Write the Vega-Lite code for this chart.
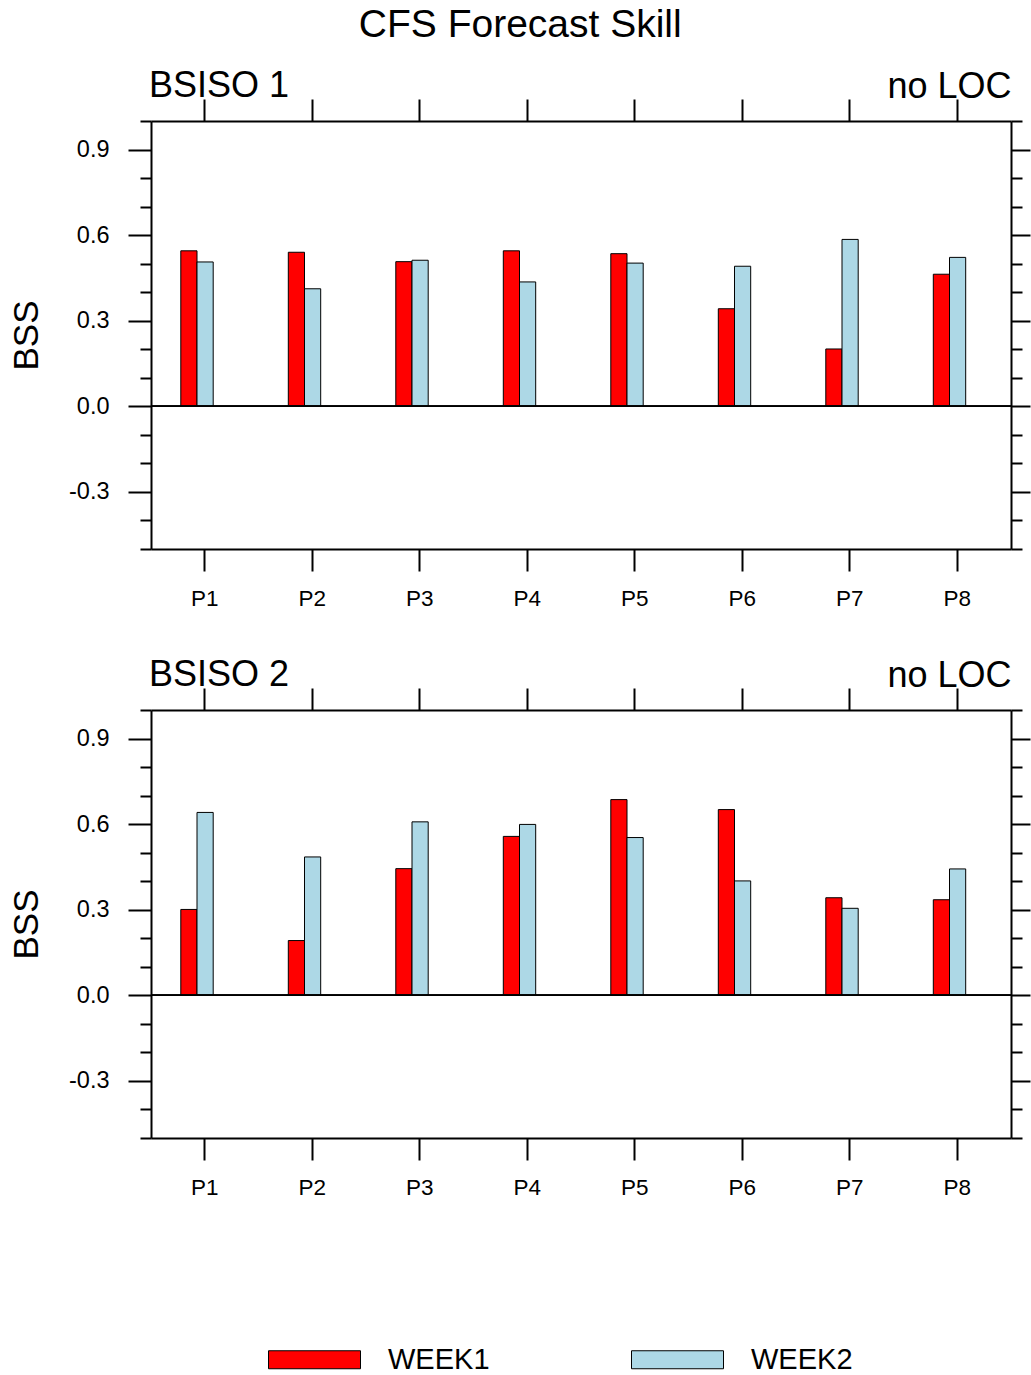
{
  "$schema": "https://vega.github.io/schema/vega-lite/v6.json",
  "padding": {"left": 9, "top": 6, "right": 0, "bottom": 0},
  "autosize": {"type": "pad"},
  "config": {
    "font": "Liberation Sans",
    "view": {"stroke": null},
    "axis": {"grid": false, "domainColor": "black", "domainWidth": 2, "tickColor": "black", "tickWidth": 2, "labelColor": "black", "titleColor": "black", "labelFont": "Liberation Sans", "titleFont": "Liberation Sans", "titleFontWeight": "normal"},
    "title": {"font": "Liberation Sans", "fontWeight": "normal", "color": "black"}
  },
  "title": {"text": "CFS Forecast Skill", "fontSize": 39, "anchor": "middle", "frame": "bounds", "offset": 23},
  "bounds": "flush",
  "spacing": 161,
  "datasets": {
    "bsiso1": [
      {"phase": "P1", "week": "WEEK1", "bss": 0.545}, {"phase": "P1", "week": "WEEK2", "bss": 0.506},
      {"phase": "P2", "week": "WEEK1", "bss": 0.540}, {"phase": "P2", "week": "WEEK2", "bss": 0.412},
      {"phase": "P3", "week": "WEEK1", "bss": 0.507}, {"phase": "P3", "week": "WEEK2", "bss": 0.512},
      {"phase": "P4", "week": "WEEK1", "bss": 0.545}, {"phase": "P4", "week": "WEEK2", "bss": 0.436},
      {"phase": "P5", "week": "WEEK1", "bss": 0.535}, {"phase": "P5", "week": "WEEK2", "bss": 0.502},
      {"phase": "P6", "week": "WEEK1", "bss": 0.342}, {"phase": "P6", "week": "WEEK2", "bss": 0.491},
      {"phase": "P7", "week": "WEEK1", "bss": 0.201}, {"phase": "P7", "week": "WEEK2", "bss": 0.585},
      {"phase": "P8", "week": "WEEK1", "bss": 0.463}, {"phase": "P8", "week": "WEEK2", "bss": 0.522}
    ],
    "bsiso2": [
      {"phase": "P1", "week": "WEEK1", "bss": 0.301}, {"phase": "P1", "week": "WEEK2", "bss": 0.641},
      {"phase": "P2", "week": "WEEK1", "bss": 0.192}, {"phase": "P2", "week": "WEEK2", "bss": 0.485},
      {"phase": "P3", "week": "WEEK1", "bss": 0.444}, {"phase": "P3", "week": "WEEK2", "bss": 0.608},
      {"phase": "P4", "week": "WEEK1", "bss": 0.557}, {"phase": "P4", "week": "WEEK2", "bss": 0.599},
      {"phase": "P5", "week": "WEEK1", "bss": 0.686}, {"phase": "P5", "week": "WEEK2", "bss": 0.553},
      {"phase": "P6", "week": "WEEK1", "bss": 0.651}, {"phase": "P6", "week": "WEEK2", "bss": 0.401},
      {"phase": "P7", "week": "WEEK1", "bss": 0.342}, {"phase": "P7", "week": "WEEK2", "bss": 0.305},
      {"phase": "P8", "week": "WEEK1", "bss": 0.335}, {"phase": "P8", "week": "WEEK2", "bss": 0.443}
    ]
  },
  "vconcat": [
    {
      "width": 860, "height": 428,
      "title": {"text": "BSISO 1", "anchor": "start", "frame": "group", "fontSize": 36, "offset": 0, "dx": -2, "dy": 37},
      "data": {"name": "bsiso1"},
      "layer": [
        {
          "mark": {"type": "bar", "stroke": "black", "strokeWidth": 1},
          "encoding": {
            "x": {"field": "phase", "type": "nominal", "sort": ["P1","P2","P3","P4","P5","P6","P7","P8"],
                  "scale": {"paddingInner": 0, "paddingOuter": 0},
                  "axis": {"orient": "bottom", "title": null, "labelAngle": 0, "tickSize": 22, "labelPadding": 16, "labelFontSize": 22.5}},
            "xOffset": {"field": "week", "type": "nominal", "scale": {"domain": ["WEEK1","WEEK2"], "range": [29.8, 62.2], "paddingInner": 0, "paddingOuter": 0}},
            "y": {"field": "bss", "type": "quantitative",
                  "scale": {"domain": [-0.5, 1.0], "nice": false, "zero": false},
                  "axis": {"orient": "left", "values": [-0.5,-0.4,-0.3,-0.2,-0.1,0,0.1,0.2,0.3,0.4,0.5,0.6,0.7,0.8,0.9,1.0],
                           "labelExpr": "(datum.value == -0.3 || datum.value == 0 || datum.value == 0.3 || datum.value == 0.6 || datum.value == 0.9) ? ((datum.value < 0 ? '-' : '') + format(abs(datum.value), '.1f')) : ''",
                           "tickSize": {"condition": {"test": "datum.value == -0.3 || datum.value == 0 || datum.value == 0.3 || datum.value == 0.6 || datum.value == 0.9", "value": 23}, "value": 11},
                           "labelPadding": 19, "labelFontSize": 23.5, "title": "BSS", "titleFontSize": 35, "titlePadding": 24}},
            "color": {"field": "week", "type": "nominal",
                      "scale": {"domain": ["WEEK1","WEEK2"], "range": ["#ff0000", "#add8e6"]},
                      "legend": {"orient": "none", "legendX": 149, "legendY": 1224, "direction": "horizontal", "title": null,
                                 "symbolType": "M-4.6,-0.9H4.6V0.9H-4.6Z", "symbolSize": 400, "symbolStrokeColor": "black", "symbolStrokeWidth": 1,
                                 "labelFontSize": 29, "labelColor": "black", "labelOffset": 59, "columnPadding": 139, "labelFont": "Liberation Sans"}}
          }
        },
        {
          "mark": {"type": "bar", "opacity": 0},
          "encoding": {
            "x": {"field": "phase", "type": "nominal", "sort": ["P1","P2","P3","P4","P5","P6","P7","P8"],
                  "axis": {"orient": "top", "labels": false, "tickSize": 22, "title": "no LOC", "titleFontSize": 36, "titleAlign": "right", "titleAnchor": "end", "titleX": 860, "titleY": -24, "titleBaseline": "alphabetic"}},
            "y": {"field": "bss", "type": "quantitative",
                  "axis": {"orient": "right", "values": [-0.5,-0.4,-0.3,-0.2,-0.1,0,0.1,0.2,0.3,0.4,0.5,0.6,0.7,0.8,0.9,1.0], "labels": false, "title": null,
                           "tickSize": {"condition": {"test": "datum.value == -0.3 || datum.value == 0 || datum.value == 0.3 || datum.value == 0.6 || datum.value == 0.9", "value": 19}, "value": 11}}}
          }
        },
        {
          "mark": {"type": "rule", "color": "black", "strokeWidth": 1},
          "encoding": {"y": {"datum": 0, "type": "quantitative", "axis": null}}
        }
      ],
      "resolve": {"axis": {"x": "independent", "y": "independent"}}
    },
    {
      "width": 860, "height": 428,
      "title": {"text": "BSISO 2", "anchor": "start", "frame": "group", "fontSize": 36, "offset": 0, "dx": -2, "dy": 52},
      "data": {"name": "bsiso2"},
      "layer": [
        {
          "mark": {"type": "bar", "stroke": "black", "strokeWidth": 1},
          "encoding": {
            "x": {"field": "phase", "type": "nominal", "sort": ["P1","P2","P3","P4","P5","P6","P7","P8"],
                  "scale": {"paddingInner": 0, "paddingOuter": 0},
                  "axis": {"orient": "bottom", "title": null, "labelAngle": 0, "tickSize": 22, "labelPadding": 16, "labelFontSize": 22.5}},
            "xOffset": {"field": "week", "type": "nominal", "scale": {"domain": ["WEEK1","WEEK2"], "range": [29.8, 62.2], "paddingInner": 0, "paddingOuter": 0}},
            "y": {"field": "bss", "type": "quantitative",
                  "scale": {"domain": [-0.5, 1.0], "nice": false, "zero": false},
                  "axis": {"orient": "left", "values": [-0.5,-0.4,-0.3,-0.2,-0.1,0,0.1,0.2,0.3,0.4,0.5,0.6,0.7,0.8,0.9,1.0],
                           "labelExpr": "(datum.value == -0.3 || datum.value == 0 || datum.value == 0.3 || datum.value == 0.6 || datum.value == 0.9) ? ((datum.value < 0 ? '-' : '') + format(abs(datum.value), '.1f')) : ''",
                           "tickSize": {"condition": {"test": "datum.value == -0.3 || datum.value == 0 || datum.value == 0.3 || datum.value == 0.6 || datum.value == 0.9", "value": 23}, "value": 11},
                           "labelPadding": 19, "labelFontSize": 23.5, "title": "BSS", "titleFontSize": 35, "titlePadding": 24}},
            "color": {"field": "week", "type": "nominal", "scale": {"domain": ["WEEK1","WEEK2"], "range": ["#ff0000", "#add8e6"]}}
          }
        },
        {
          "mark": {"type": "bar", "opacity": 0},
          "encoding": {
            "x": {"field": "phase", "type": "nominal", "sort": ["P1","P2","P3","P4","P5","P6","P7","P8"],
                  "axis": {"orient": "top", "labels": false, "tickSize": 22, "title": "no LOC", "titleFontSize": 36, "titleAlign": "right", "titleAnchor": "end", "titleX": 860, "titleY": -24, "titleBaseline": "alphabetic"}},
            "y": {"field": "bss", "type": "quantitative",
                  "axis": {"orient": "right", "values": [-0.5,-0.4,-0.3,-0.2,-0.1,0,0.1,0.2,0.3,0.4,0.5,0.6,0.7,0.8,0.9,1.0], "labels": false, "title": null,
                           "tickSize": {"condition": {"test": "datum.value == -0.3 || datum.value == 0 || datum.value == 0.3 || datum.value == 0.6 || datum.value == 0.9", "value": 19}, "value": 11}}}
          }
        },
        {
          "mark": {"type": "rule", "color": "black", "strokeWidth": 1},
          "encoding": {"y": {"datum": 0, "type": "quantitative", "axis": null}}
        }
      ],
      "resolve": {"axis": {"x": "independent", "y": "independent"}}
    }
  ],
  "resolve": {"scale": {"color": "shared"}, "legend": {"color": "shared"}}
}
